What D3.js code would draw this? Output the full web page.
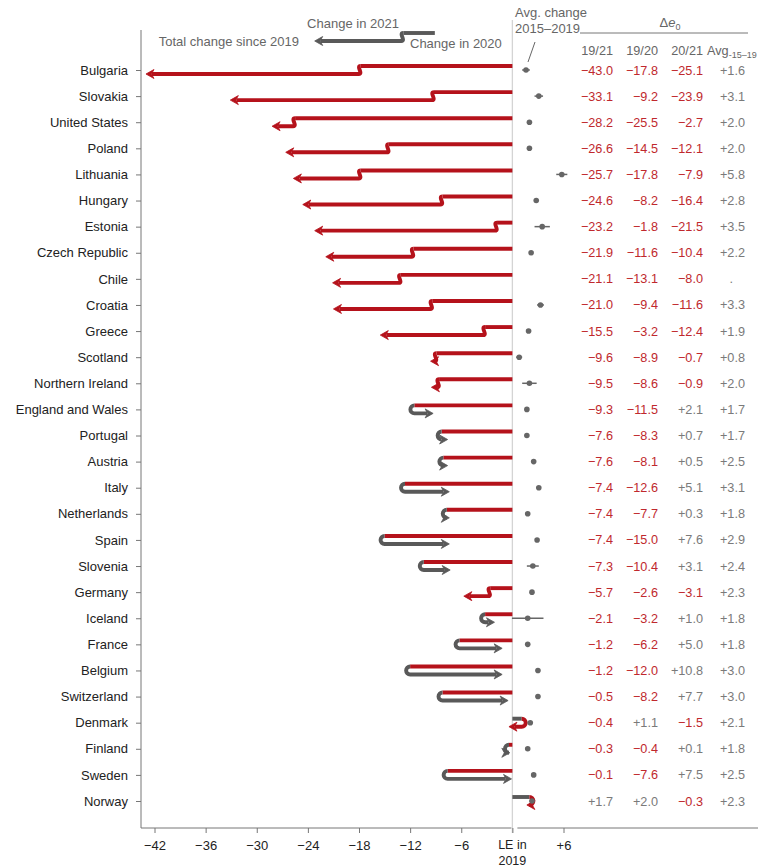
<!DOCTYPE html>
<html>
<head>
<meta charset="utf-8">
<script src="https://cdn.jsdelivr.net/npm/d3@7"></script>
<style>
  body { margin: 0; background: #fff; }
  svg { font-family: "Liberation Sans", Arial, sans-serif; }
</style>
</head>
<body>
<svg id="chart" width="780" height="867"></svg>
<script>
// countries top to bottom
const countries = ['Bulgaria', 'Slovakia', 'United States', 'Poland', 'Lithuania', 'Hungary', 'Estonia',
    'Czech Republic', 'Chile', 'Croatia', 'Greece', 'Scotland', 'Northern Ireland', 'England and Wales',
    'Portugal', 'Austria', 'Italy', 'Netherlands', 'Spain', 'Slovenia', 'Germany', 'Iceland', 'France',
    'Belgium', 'Switzerland', 'Denmark', 'Finland', 'Sweden', 'Norway'];
// total change in e0 2019 -> 2021 (months)
const change1921 = [-43.0, -33.1, -28.2, -26.6, -25.7, -24.6, -23.2, -21.9, -21.1, -21.0, -15.5, -9.6, -9.5, -9.3,
    -7.6, -7.6, -7.4, -7.4, -7.4, -7.3, -5.7, -2.1, -1.2, -1.2, -0.5, -0.4, -0.3, -0.1, 1.7];
const change1920 = [-17.8, -9.2, -25.5, -14.5, -17.8, -8.2, -1.8, -11.6, -13.1, -9.4, -3.2, -8.9, -8.6, -11.5,
    -8.3, -8.1, -12.6, -7.7, -15.0, -10.4, -2.6, -3.2, -6.2, -12.0, -8.2, 1.1, -0.4, -7.6, 2.0];
const change2021 = [-25.1, -23.9, -2.7, -12.1, -7.9, -16.4, -21.5, -10.4, -8.0, -11.6, -12.4, -0.7, -0.9, 2.1,
    0.7, 0.5, 5.1, 0.3, 7.6, 3.1, -3.1, 1.0, 5.0, 10.8, 7.7, -1.5, 0.1, 7.5, -0.3];
// avg yearly change 2015-2019, null = not available
const avg1519 = [1.6, 3.1, 2.0, 2.0, 5.8, 2.8, 3.5, 2.2, null, 3.3, 1.9, 0.8, 2.0, 1.7,
    1.7, 2.5, 3.1, 1.8, 2.9, 2.4, 2.3, 1.8, 1.8, 3.0, 3.0, 2.1, 1.8, 2.5, 2.3];
// half width of the interval around the avg
const avgHalfCI = [0.45, 0.5, 0.2, 0.2, 0.65, 0.2, 0.9, 0.2, null, 0.4, 0.3, 0.35, 0.85, 0.2,
    0.2, 0.2, 0.2, 0.2, 0.2, 0.7, 0.2, 1.85, 0.2, 0.2, 0.2, 0.3, 0.2, 0.2, 0.3];
const xTicks = [-42, -36, -30, -24, -18, -12, -6];
const rightTicks = [6];
const tableHeaders = ['19/21', '19/20', '20/21'];
// legend arrow: start, change 2020, change 2021
const legendStart = -9.1;
const legendSteps = [-3.7, -10.4];

const RED = '#b5121b';
const GRAY = '#595959';
const TXT_RED = '#c0282d';
const TXT_GRAY = '#7a7a7a';

const svg = d3.select('#chart');

const x = d3.scaleLinear().domain([-42, 6]).range([154.5, 563.5]);
const y = d3.scalePoint().domain(countries).range([70, 801]);

const rows = countries.map((name, i) => ({
    name, total: change1921[i], v20: change1920[i], v21: change2021[i],
    avg: avg1519[i], ci: avgHalfCI[i]
}));

// LE 2019 reference line
svg.append('line')
    .attr('x1', x(0)).attr('x2', x(0))
    .attr('y1', 20).attr('y2', 833)
    .attr('stroke', '#d4d4d4').attr('stroke-width', 1.3);

// left axis
const yAxis = svg.append('g').attr('transform', 'translate(141,0)')
    .call(d3.axisLeft(y).tickSize(5).tickPadding(8));
yAxis.select('.domain').remove();
yAxis.selectAll('line').attr('stroke', '#777');
yAxis.selectAll('text').attr('font-size', 13).attr('fill', '#222')
    .attr('font-family', '"Liberation Sans", Arial, sans-serif');
svg.append('line').attr('x1', 141).attr('x2', 141).attr('y1', 30).attr('y2', 828)
    .attr('stroke', '#777');

// bottom axes
const minus = (d) => (d < 0 ? '\u2212' + Math.abs(d) : d > 0 ? '+' + d : '');
const styleAxis = (g) => {
    g.select('.domain').remove();
    g.selectAll('line').attr('stroke', '#777');
    g.selectAll('text').filter((d) => d === 0).remove();
    g.selectAll('text').attr('font-size', 13).attr('fill', '#222')
        .attr('font-family', '"Liberation Sans", Arial, sans-serif');
};
svg.append('g').attr('transform', 'translate(0,828)')
    .call(d3.axisBottom(x).tickValues(xTicks.concat([0])).tickSize(5).tickPadding(8).tickFormat(minus))
    .call(styleAxis);
svg.append('g').attr('transform', 'translate(0,828)')
    .call(d3.axisBottom(x).tickValues(rightTicks).tickSize(5).tickPadding(8).tickFormat(minus))
    .call(styleAxis);
svg.append('line').attr('x1', 141).attr('x2', x(0) - 1).attr('y1', 828).attr('y2', 828).attr('stroke', '#777');
svg.append('line').attr('x1', x(0) + 5).attr('x2', 758).attr('y1', 828).attr('y2', 828).attr('stroke', '#777');
svg.append('text').attr('x', x(0)).attr('y', 849).attr('text-anchor', 'middle')
    .attr('font-size', 12.5).attr('fill', '#222').text('LE in');
svg.append('text').attr('x', x(0)).attr('y', 864.5).attr('text-anchor', 'middle')
    .attr('font-size', 12.5).attr('fill', '#222').text('2019');

// arrows
const OFF = 4;
const colorOf = (v) => (v < 0 ? RED : GRAY);

const drawArrow = (g, startVal, v20, endVal, v21, cy, col20, col21) => {
    const x0 = x(startVal);
    const x1 = x(startVal + v20);
    const x2 = x(endVal);
    const yt = cy - OFF;
    const yb = cy + OFF;
    const dir1 = v20 < 0 ? -1 : 1;
    const dir2 = v21 < 0 ? -1 : 1;
    const L = 8;
    let xe = x2 - dir2 * (L - 2);
    if ((xe - x1) * dir2 < 0) xe = x1;

    let p2;
    if (dir1 === dir2) {
        p2 = `M${x1},${yt} C${x1 + dir1 * 5},${yt} ${x1 - dir1 * 3},${yb} ${x1 + dir1 * 2},${yb} H${xe}`;
        if ((xe - (x1 + dir1 * 2)) * dir2 < 0) p2 = `M${x1},${yt} C${x1 + dir1 * 5},${yt} ${x1 - dir1 * 3},${yb} ${x1 + dir1 * 2},${yb}`;
    } else {
        const sweep = dir1 < 0 ? 0 : 1;
        p2 = `M${x1},${yt} A${OFF},${OFF} 0 0 ${sweep} ${x1},${yb} H${xe}`;
    }

    g.append('path').attr('d', `M${x0},${yt} H${x1}`)
        .attr('fill', 'none').attr('stroke', col20).attr('stroke-width', 3.9);
    g.append('path').attr('d', p2)
        .attr('fill', 'none').attr('stroke', col21).attr('stroke-width', 3.9);
    g.append('path')
        .attr('d', `M${x2},${yb} L${x2 - dir2 * L},${yb - 4.5} L${x2 - dir2 * (L - 2.5)},${yb} L${x2 - dir2 * L},${yb + 4.5} Z`)
        .attr('fill', col21).attr('stroke', col21).attr('stroke-width', 0.8).attr('stroke-linejoin', 'round');
};

const arrows = svg.append('g').attr('class', 'arrows');
rows.forEach((d) => {
    drawArrow(arrows.append('g'), 0, d.v20, d.total, d.v21, y(d.name), colorOf(d.v20), colorOf(d.v21));
});

// legend
drawArrow(svg.append('g'), legendStart, legendSteps[0], legendStart + legendSteps[0] + legendSteps[1],
    legendSteps[1], 37, GRAY, GRAY);
svg.append('text').attr('x', 353).attr('y', 28).attr('text-anchor', 'middle')
    .attr('font-size', 13).attr('fill', '#666').text('Change in 2021');
svg.append('text').attr('x', 299).attr('y', 46).attr('text-anchor', 'end')
    .attr('font-size', 13).attr('fill', '#666').text('Total change since 2019');
svg.append('text').attr('x', 410).attr('y', 48).attr('text-anchor', 'start')
    .attr('font-size', 13).attr('fill', '#666').text('Change in 2020');

// avg change dots
const dots = svg.append('g').attr('class', 'avgDots');
const withAvg = rows.filter((d) => d.avg !== null);
dots.selectAll('line').data(withAvg).enter().append('line')
    .attr('x1', (d) => x(d.avg - d.ci)).attr('x2', (d) => x(d.avg + d.ci))
    .attr('y1', (d) => y(d.name)).attr('y2', (d) => y(d.name))
    .attr('stroke', '#666').attr('stroke-width', 1.5);
dots.selectAll('circle').data(withAvg).enter().append('circle')
    .attr('cx', (d) => x(d.avg)).attr('cy', (d) => y(d.name)).attr('r', 2.8)
    .attr('fill', '#666');

svg.append('text').attr('x', 515).attr('y', 17).attr('font-size', 13).attr('fill', '#666').text('Avg. change');
svg.append('text').attr('x', 515).attr('y', 33).attr('font-size', 13).attr('fill', '#666').text('2015\u20132019');
svg.append('line').attr('x1', 535).attr('y1', 42).attr('x2', 528).attr('y2', 62)
    .attr('stroke', '#666').attr('stroke-width', 1);

// table
const colX = [613, 658, 703, 745];
const fmt = (v) => (v < 0 ? '\u2212' + Math.abs(v).toFixed(1) : '+' + v.toFixed(1));
const table = svg.append('g').attr('class', 'table').attr('font-size', 12.7).attr('text-anchor', 'end');
const cols = [(d) => d.total, (d) => d.v20, (d) => d.v21];
cols.forEach((acc, ci) => {
    table.append('g').selectAll('text').data(rows).enter().append('text')
        .attr('x', colX[ci]).attr('y', (d) => y(d.name) + 4.5)
        .attr('fill', (d) => (acc(d) < 0 ? TXT_RED : TXT_GRAY))
        .text((d) => fmt(acc(d)));
});
table.append('g').selectAll('text').data(rows).enter().append('text')
    .attr('x', (d) => (d.avg === null ? colX[3] - 12 : colX[3])).attr('y', (d) => y(d.name) + 4.5)
    .attr('fill', TXT_GRAY)
    .text((d) => (d.avg === null ? '.' : fmt(d.avg)));

table.selectAll('.hdr').data(tableHeaders).enter().append('text').attr('class', 'hdr')
    .attr('x', (d, i) => colX[i]).attr('y', 55).attr('fill', '#666').text((d) => d);
const avgHdr = svg.append('text').attr('x', 707).attr('y', 55).attr('font-size', 12.7).attr('fill', '#666');
avgHdr.append('tspan').text('Avg');
avgHdr.append('tspan').attr('font-size', 9).attr('dy', 3).text('-15\u201319');

const de = svg.append('text').attr('x', 670).attr('y', 27).attr('text-anchor', 'middle')
    .attr('font-size', 13).attr('fill', '#666');
de.append('tspan').text('\u0394');
de.append('tspan').attr('font-style', 'italic').text('e');
de.append('tspan').attr('font-size', 9).attr('dy', 3).text('0');
svg.append('line').attr('x1', 580).attr('x2', 748).attr('y1', 33).attr('y2', 33)
    .attr('stroke', '#777').attr('stroke-width', 1);
</script>
</body>
</html>
